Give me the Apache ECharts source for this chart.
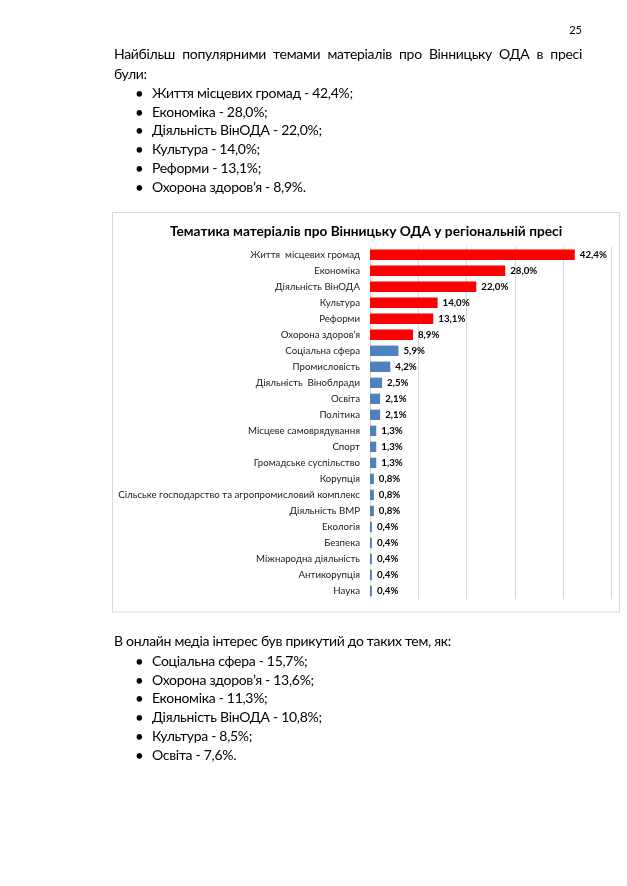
<!DOCTYPE html>
<html>
<head>
<meta charset="utf-8">
<script src="https://cdn.jsdelivr.net/npm/echarts@6/dist/echarts.min.js"></script>
<style>
  html, body { margin: 0; padding: 0; background: #fff; }
  body { width: 627px; height: 886px; position: relative; overflow: hidden; font-family: Lato, "Noto Sans", sans-serif; color: #000; }
  #chart { position: absolute; left: 0; top: 0; width: 627px; height: 886px; }
  .t { position: absolute; font-size: 14px; letter-spacing: -0.3px; line-height: 18px; white-space: nowrap; z-index: 2; }
  .b { position: absolute; font-size: 14px; letter-spacing: -0.3px; line-height: 18px; white-space: nowrap; z-index: 2; left: 152px; }
  .b::before { content: "\2022"; position: absolute; left: -17px; font-size: 15px; }
  .just { width: 468px; white-space: normal; text-align: justify; text-align-last: justify; }
  .pn { position: absolute; left: 562px; width: 20px; text-align: right; top: 23px; font-size: 11px; z-index: 2; }
</style>
</head>
<body>
<div id="chart"></div>
<div class="pn">25</div>
<div class="t just" style="left:114px; top:45px;">Найбільш популярними темами матеріалів про Вінницьку ОДА в пресі</div>
<div class="t" style="left:114px; top:65px;">були:</div>
<div id="list1"></div>
<div class="t" style="left:114px; top:632px;">В онлайн медіа інтерес був прикутий до таких тем, як:</div>
<div id="list2"></div>
<script>
// ---- data ----
var categories = [
  'Життя  місцевих громад', 'Економіка', 'Діяльність ВінОДА', 'Культура', 'Реформи',
  'Охорона здоров\u2019я', 'Соціальна сфера', 'Промисловість', 'Діяльність  Віноблради', 'Освіта',
  'Політика', 'Місцеве самоврядування', 'Спорт', 'Громадське суспільство', 'Корупція',
  'Сільське господарство та агропромисловий комплекс', 'Діяльність ВМР', 'Екологія', 'Безпека',
  'Міжнародна діяльність', 'Антикорупція', 'Наука'
];
var values = [42.4, 28.0, 22.0, 14.0, 13.1, 8.9, 5.9, 4.2, 2.5, 2.1, 2.1, 1.3, 1.3, 1.3, 0.8, 0.8, 0.8, 0.4, 0.4, 0.4, 0.4, 0.4];
var highlightCount = 6;
var xTicks = [0, 10, 20, 30, 40, 50];
var pressBullets = ['Життя місцевих громад - 42,4%;', 'Економіка - 28,0%;', 'Діяльність ВінОДА - 22,0%;', 'Культура - 14,0%;', 'Реформи - 13,1%;', 'Охорона здоров\u2019я - 8,9%.'];
var onlineBullets = ['Соціальна сфера - 15,7%;', 'Охорона здоров\u2019я - 13,6%;', 'Економіка - 11,3%;', 'Діяльність ВінОДА - 10,8%;', 'Культура - 8,5%;', 'Освіта - 7,6%.'];

function addList(id, items, top0, step) {
  var host = document.getElementById(id);
  items.forEach(function (s, i) {
    var d = document.createElement('div');
    d.className = 'b';
    d.style.top = (top0 + i * step) + 'px';
    d.textContent = s;
    host.appendChild(d);
  });
}
addList('list1', pressBullets, 84, 18.7);
addList('list2', onlineBullets, 652, 18.7);

var chart = echarts.init(document.getElementById('chart'), null, { renderer: 'canvas' });
var fmt = function (v) { return v.toFixed(1).replace('.', ',') + '%'; };
chart.setOption({
  animation: false,
  backgroundColor: 'transparent',
  title: {
    text: 'Тематика матеріалів про Вінницьку ОДА у регіональній пресі',
    left: 361, top: 220, textAlign: 'center',
    textStyle: { fontFamily: 'Lato', fontWeight: 'bold', fontSize: 13.7, color: '#000' }
  },
  graphic: [{
    type: 'rect', z: -1,
    shape: { x: 112.5, y: 212.5, width: 507, height: 399.5 },
    style: { fill: '#fff', stroke: '#d9d9d9', lineWidth: 1 }
  }],
  grid: { left: 370, right: 15.5, top: 246.7, bottom: 287, containLabel: false },
  xAxis: {
    type: 'value', min: xTicks[0], max: xTicks[xTicks.length - 1], interval: 10,
    axisLine: { show: false }, axisTick: { show: false }, axisLabel: { show: false },
    splitLine: { show: true, lineStyle: { color: '#d9d9d9', width: 1 } }
  },
  yAxis: {
    type: 'category', inverse: true, data: categories,
    axisLine: { show: true, lineStyle: { color: '#d9d9d9' } },
    axisTick: { show: false },
    axisLabel: { margin: 10, fontFamily: 'Lato', fontSize: 9.7, color: '#1a1a1a' }
  },
  series: [{
    type: 'bar',
    barCategoryGap: '35%',
    data: values.map(function (v, i) {
      return { value: v, itemStyle: { color: i < highlightCount ? '#ff0000' : '#4f81bd' } };
    }),
    label: {
      show: true, position: 'right', distance: 5,
      fontFamily: 'Lato', fontWeight: 'bold', fontSize: 9.7, color: '#000',
      formatter: function (p) { return fmt(p.value); }
    }
  }]
});
</script>
</body>
</html>
